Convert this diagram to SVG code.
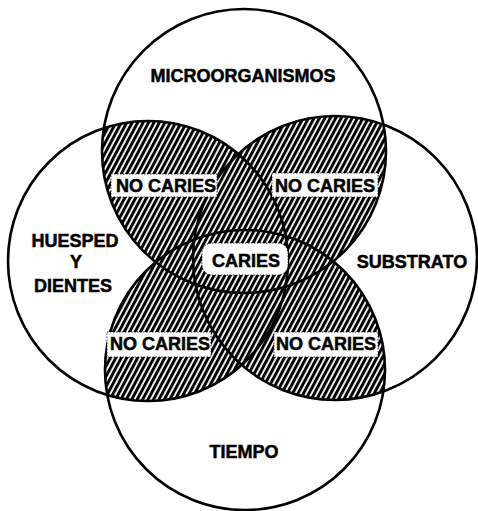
<svg xmlns="http://www.w3.org/2000/svg" width="478" height="511" viewBox="0 0 478 511">
<style>
.c{fill:none;stroke:#000;stroke-width:2.6}
.t{font-family:"Liberation Sans",Arial,sans-serif;font-weight:bold;font-size:18px;fill:#000;stroke:#000;stroke-width:0.5;text-anchor:middle}
.box{fill:#fff;stroke:#000;stroke-width:0.8;stroke-dasharray:1.5 1.5}
</style>
<defs>
<pattern id="hatch" width="4.8" height="10" patternUnits="userSpaceOnUse" patternTransform="rotate(28)">
<rect width="4.8" height="10" fill="#fff"/>
<rect width="3" height="10" fill="#000"/>
</pattern>
<clipPath id="cT"><circle cx="244" cy="151" r="142"/></clipPath>
<clipPath id="cB"><circle cx="245" cy="370" r="140"/></clipPath>
<clipPath id="cL"><circle cx="148" cy="261" r="140"/></clipPath>
<clipPath id="cR"><circle cx="335" cy="258" r="142"/></clipPath>
</defs>
<rect width="478" height="511" fill="#fff"/>
<g id="hatching">
<g clip-path="url(#cT)">
<rect x="0" y="0" width="478" height="511" fill="url(#hatch)" clip-path="url(#cL)"/>
<rect x="0" y="0" width="478" height="511" fill="url(#hatch)" clip-path="url(#cR)"/>
</g>
<g clip-path="url(#cB)">
<rect x="0" y="0" width="478" height="511" fill="url(#hatch)" clip-path="url(#cL)"/>
<rect x="0" y="0" width="478" height="511" fill="url(#hatch)" clip-path="url(#cR)"/>
</g>
</g>
<g id="circles">
<circle id="microorganismos" class="c" cx="244" cy="151" r="142"/>
<circle id="huesped" class="c" cx="148" cy="261" r="140"/>
<circle id="substrato" class="c" cx="335" cy="258" r="142"/>
<circle id="tiempo" class="c" cx="245" cy="370" r="140"/>
</g>
<g id="labels">
<text class="t" x="243" y="82">MICROORGANISMOS</text>
<text class="t" x="75" y="247">HUESPED</text>
<text class="t" x="76" y="268">Y</text>
<text class="t" x="73" y="292">DIENTES</text>
<text class="t" x="412" y="268">SUBSTRATO</text>
<text class="t" x="244" y="458">TIEMPO</text>
</g>
<g id="nocaries-tl"><rect class="box" x="111" y="174" width="106" height="23"/><text class="t" x="166" y="192">NO CARIES</text></g>
<g id="nocaries-tr"><rect class="box" x="272" y="173" width="106" height="24"/><text class="t" x="325" y="192">NO CARIES</text></g>
<g id="caries"><rect class="box" x="202" y="243" width="86" height="32" rx="10"/><text class="t" x="246" y="267">CARIES</text></g>
<g id="nocaries-bl"><rect class="box" x="107" y="332" width="104" height="25"/><text class="t" x="160" y="350">NO CARIES</text></g>
<g id="nocaries-br"><rect class="box" x="274" y="332" width="104" height="25"/><text class="t" x="326" y="350">NO CARIES</text></g>
</svg>
